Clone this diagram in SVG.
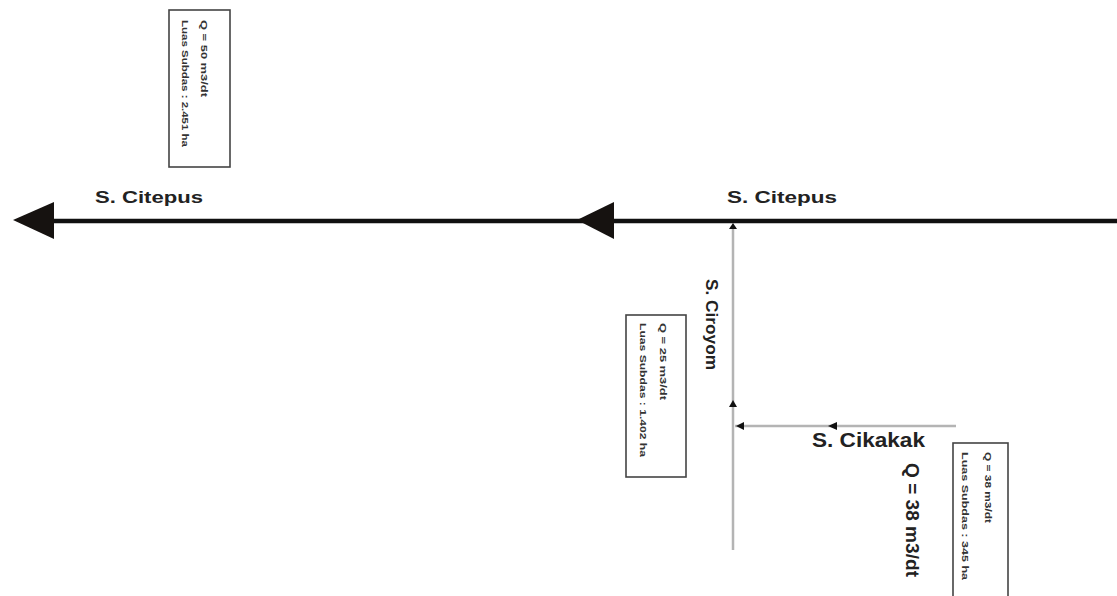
<svg xmlns="http://www.w3.org/2000/svg" width="1117" height="596" viewBox="0 0 1117 596">
<style>
.lbl{font-family:"Liberation Sans",Arial,sans-serif;font-weight:bold;fill:#222}
.small{font-family:"Liberation Sans",Arial,sans-serif;font-weight:bold;font-size:9.5px;fill:#333}
.box{fill:#fff;stroke:#444;stroke-width:1.6}
.main{stroke:#111;stroke-width:4.5;fill:none}
.trib{stroke:#b4b4b4;stroke-width:2.5;fill:none}
.big{fill:#161210}
.tip{fill:#111}
</style>
<rect width="1117" height="596" fill="#fff"/>
<g id="connectors">
  <line class="main" x1="50" y1="221" x2="1117" y2="221"/>
  <polygon class="big" points="13,220 54,202 54,239"/>
  <polygon class="big" points="577,220 614,202 614,239"/>
  <line class="trib" x1="733" y1="227" x2="733" y2="550"/>
  <polygon class="tip" points="733,223 729,229 737,229"/>
  <polygon class="tip" points="733,400 729,407 737,407"/>
  <line class="trib" x1="735" y1="426" x2="956" y2="426"/>
  <polygon class="tip" points="736,426 744,422 744,430"/>
  <polygon class="tip" points="828,426 837,422 837,430"/>
</g>
<g id="label-citepus-1">
  <text class="lbl" x="95" y="203" font-size="17" textLength="108" lengthAdjust="spacingAndGlyphs">S. Citepus</text>
</g>
<g id="label-citepus-2">
  <text class="lbl" x="727" y="203" font-size="17" textLength="110" lengthAdjust="spacingAndGlyphs">S. Citepus</text>
</g>
<g id="label-ciroyom">
  <text class="lbl" font-size="17" transform="translate(706,279) rotate(90)" textLength="91" lengthAdjust="spacingAndGlyphs">S. Ciroyom</text>
</g>
<g id="label-cikakak">
  <text class="lbl" x="812" y="447" font-size="20" textLength="113" lengthAdjust="spacingAndGlyphs">S. Cikakak</text>
</g>
<g id="label-q38">
  <text class="lbl" font-size="19" transform="translate(906,463) rotate(90)" textLength="114" lengthAdjust="spacingAndGlyphs">Q = 38 m3/dt</text>
</g>
<g id="box-citepus">
  <rect class="box" x="169" y="10" width="61" height="157"/>
  <text class="small" transform="translate(201,20) rotate(90)" textLength="77" lengthAdjust="spacingAndGlyphs">Q = 50 m3/dt</text>
  <text class="small" transform="translate(182,20) rotate(90)" textLength="127" lengthAdjust="spacingAndGlyphs">Luas Subdas : 2.451 ha</text>
</g>
<g id="box-ciroyom">
  <rect class="box" x="626" y="315" width="60" height="162"/>
  <text class="small" transform="translate(660,323) rotate(90)" textLength="77" lengthAdjust="spacingAndGlyphs">Q = 25 m3/dt</text>
  <text class="small" transform="translate(640,323) rotate(90)" textLength="134" lengthAdjust="spacingAndGlyphs">Luas Subdas : 1.402 ha</text>
</g>
<g id="box-cikakak">
  <rect class="box" x="953" y="443" width="55" height="160"/>
  <text class="small" transform="translate(985,452) rotate(90)" textLength="71" lengthAdjust="spacingAndGlyphs">Q = 38 m3/dt</text>
  <text class="small" transform="translate(962,452) rotate(90)" textLength="128" lengthAdjust="spacingAndGlyphs">Luas Subdas : 345 ha</text>
</g>
</svg>
